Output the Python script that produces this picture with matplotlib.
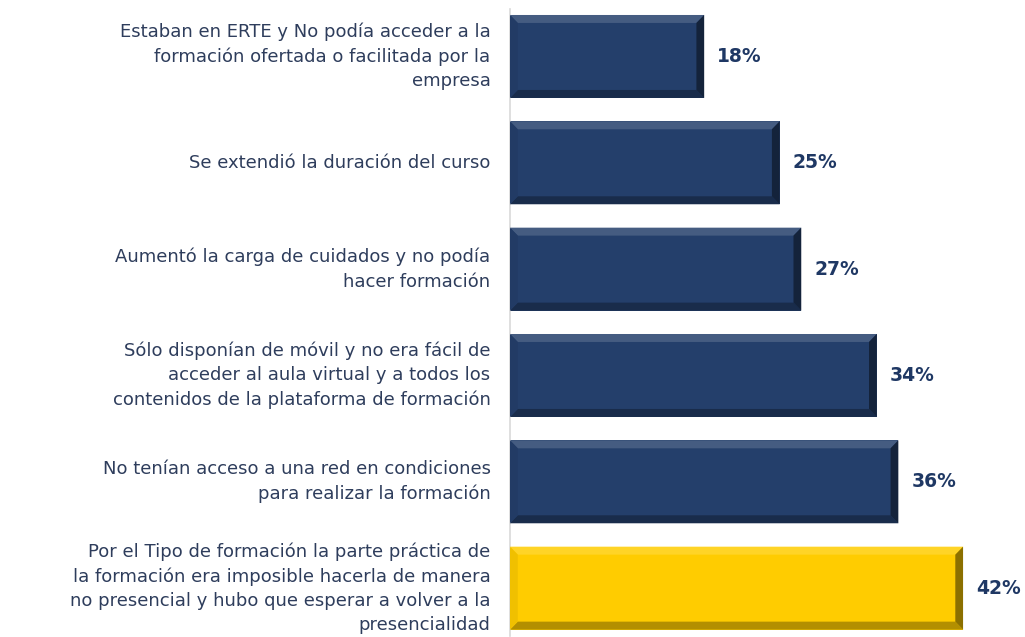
import matplotlib
matplotlib.use("Agg")
import matplotlib.pyplot as plt
from matplotlib.patches import Polygon
from matplotlib.colors import to_rgb

categories = [
    "Estaban en ERTE y No podía acceder a la\nformación ofertada o facilitada por la\nempresa",
    "Se extendió la duración del curso",
    "Aumentó la carga de cuidados y no podía\nhacer formación",
    "Sólo disponían de móvil y no era fácil de\nacceder al aula virtual y a todos los\ncontenidos de la plataforma de formación",
    "No tenían acceso a una red en condiciones\npara realizar la formación",
    "Por el Tipo de formación la parte práctica de\nla formación era imposible hacerla de manera\nno presencial y hubo que esperar a volver a la\npresencialidad",
]
values = [18, 25, 27, 34, 36, 42]
bar_colors = ["#243F6B", "#243F6B", "#243F6B", "#243F6B", "#243F6B", "#FFCC00"]

text_color = "#2E3D5C"
value_color = "#1F3864"

plt.rcParams["font.family"] = ["DejaVu Sans"]

fig = plt.figure(figsize=(10.25, 6.37), dpi=100)
ax = fig.add_axes([510 / 1025, 1 - 636 / 637, 507 / 1025, (636 - 8.6) / 637])

ypos = list(range(len(values)))
h = 0.78
bars = ax.barh(ypos, values, height=h, color=bar_colors, edgecolor="none", zorder=2)


def shade(c, f):
    r, g, b = to_rgb(c)
    if f > 0:
        return (r + (1 - r) * f, g + (1 - g) * f, b + (1 - b) * f)
    return (r * (1 + f), g * (1 + f), b * (1 + f))


# bevel edges, sized in data units (~8 px)
bx = 0.72
by = 0.075
for y, v, c in zip(ypos, values, bar_colors):
    top, bot = y - h / 2, y + h / 2
    ax.add_patch(Polygon([(0, top), (v, top), (v - bx, top + by), (bx, top + by)],
                         closed=True, color=shade(c, 0.15), lw=0, zorder=3))
    ax.add_patch(Polygon([(0, bot), (v, bot), (v - bx, bot - by), (bx, bot - by)],
                         closed=True, color=shade(c, -0.3), lw=0, zorder=3))
    ax.add_patch(Polygon([(v, top), (v, bot), (v - bx, bot - by), (v - bx, top + by)],
                         closed=True, color=shade(c, -0.45), lw=0, zorder=3))
    ax.add_patch(Polygon([(0, top), (0, bot), (bx, bot - by), (bx, top + by)],
                         closed=True, color=shade(c, -0.06), lw=0, zorder=3))

for y, v in zip(ypos, values):
    ax.text(v + 1.2, y, f"{v}%", va="center", ha="left", fontsize=13.5,
            fontweight="bold", color=value_color)

ax.set_xlim(0, 47)
ax.set_ylim(5.45, -0.45)
ax.set_yticks(ypos)
ax.set_yticklabels(categories, fontsize=13, color=text_color, linespacing=1.45,
                   va="center")
ax.tick_params(axis="y", length=0, pad=14)
ax.set_xticks([])
for s in ["top", "right", "bottom"]:
    ax.spines[s].set_visible(False)
ax.spines["left"].set_color("#D9D9D9")
ax.spines["left"].set_linewidth(1.2)

fig.savefig("out.png", dpi=100, facecolor="white")
